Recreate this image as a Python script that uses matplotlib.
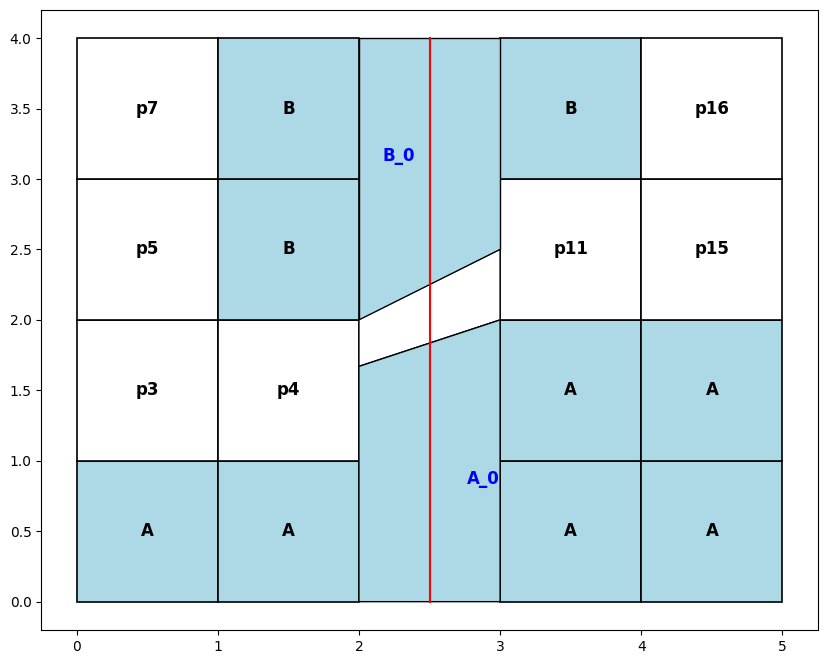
import matplotlib
matplotlib.use("Agg")
import matplotlib.pyplot as plt
from matplotlib.patches import Rectangle, Polygon

# grid cells: column, row, label, filled
cell_cols = [0, 1, 0, 1, 0, 1, 0, 1, 3, 4, 3, 4, 3, 4, 3, 4]
cell_rows = [0, 0, 1, 1, 2, 2, 3, 3, 0, 0, 1, 1, 2, 2, 3, 3]
cell_labels = ["A", "A", "p3", "p4", "p5", "B", "p7", "B",
               "A", "A", "A", "A", "p11", "p15", "B", "p16"]
cell_filled = [True, True, False, False, False, True, False, True,
               True, True, True, True, False, False, True, False]

# middle column split into regions
b0_poly = [(2, 2), (2, 4), (3, 4), (3, 2.5)]
gap_poly = [(2, 1.67), (2, 2), (3, 2.5), (3, 2)]
a0_poly = [(2, 0), (3, 0), (3, 2), (2, 1.67)]
region_labels = [("B_0", 2.28, 3.16), ("A_0", 2.88, 0.87)]
split_x = 2.5

fill = "lightblue"

fig, ax = plt.subplots(figsize=(8.26, 6.63), dpi=100)

for c, r, lab, f in zip(cell_cols, cell_rows, cell_labels, cell_filled):
    ax.add_patch(Rectangle((c, r), 1, 1, facecolor=fill if f else "white",
                           edgecolor="black", linewidth=1.2))
    ax.text(c + 0.5, r + 0.5, lab, ha="center", va="center",
            fontsize=12, fontweight="bold")

for pts, f in [(b0_poly, fill), (gap_poly, "white"), (a0_poly, fill)]:
    ax.add_patch(Polygon(pts, closed=True, facecolor=f, edgecolor="black", linewidth=1))

for lab, x, y in region_labels:
    ax.text(x, y, lab, ha="center", va="center", color="blue",
            fontsize=12, fontweight="bold")

ax.plot([split_x, split_x], [0, 4], color="red", linewidth=1.5)

ax.set_xlim(-0.25, 5.25)
ax.set_ylim(-0.2, 4.2)
fig.subplots_adjust(left=0.05, right=0.99, bottom=0.05, top=0.985)
fig.savefig("out.png")
